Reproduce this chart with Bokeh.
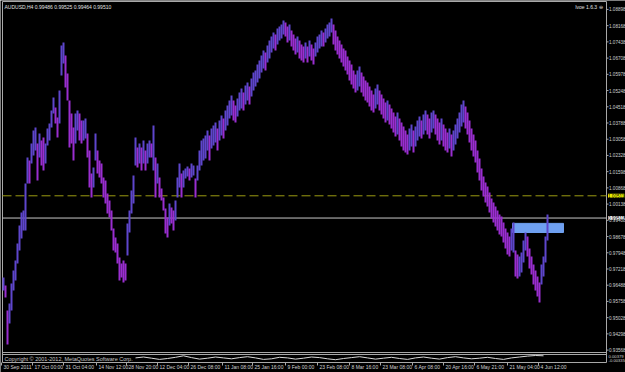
from bokeh.plotting import figure
from bokeh.models import Range1d, Label, LabelSet, ColumnDataSource
from bokeh.embed import file_html
from bokeh.resources import INLINE
from bokeh.core.properties import value

# ---------------- data ----------------
SYMBOL = "AUDUSD,H4"
HEADER_OHLC = ["0.99486", "0.99525", "0.99464", "0.99510"]
INDICATOR_NAME = "Ivoe 1.6.3 \u2296"
COPYRIGHT = "Copyright \u00a9 2001-2012, MetaQuotes Software Corp."

high = [
    0.9684, 0.9648, 0.9535, 0.9567, 0.9657, 0.9715, 0.9760, 0.9837, 0.9918, 0.9976,
    0.9985, 1.0107, 1.0224, 1.0210, 1.0287, 1.0345, 1.0359, 1.0287, 1.0332, 1.0300,
    1.0314, 1.0287, 1.0354, 1.0377, 1.0435, 1.0494, 1.0449, 1.0404, 1.0525, 1.0728,
    1.0741, 1.0683, 1.0602, 1.0480, 1.0422, 1.0359, 1.0422, 1.0435, 1.0422, 1.0390,
    1.0390, 1.0399, 1.0332, 1.0255, 1.0152, 1.0179, 1.0332, 1.0255, 1.0210, 1.0197,
    1.0134, 1.0120, 1.0062, 1.0030, 0.9985, 0.9904, 0.9864, 0.9837, 0.9774, 0.9747,
    0.9760, 0.9747, 0.9927, 0.9985, 1.0075, 1.0143, 1.0314, 1.0269, 1.0287, 1.0269,
    1.0300, 1.0255, 1.0287, 1.0300, 1.0287, 1.0368, 1.0224, 1.0197, 1.0134, 1.0084,
    1.0044, 0.9994, 0.9954, 1.0017, 0.9999, 0.9985, 1.0030, 1.0134, 1.0197, 1.0152,
    1.0165, 1.0174, 1.0183, 1.0174, 1.0197, 1.0188, 1.0129, 1.0188, 1.0255, 1.0300,
    1.0309, 1.0323, 1.0345, 1.0323, 1.0354, 1.0368, 1.0381, 1.0354, 1.0390, 1.0413,
    1.0399, 1.0435, 1.0458, 1.0480, 1.0503, 1.0480, 1.0458, 1.0489, 1.0516, 1.0534,
    1.0516, 1.0548, 1.0561, 1.0543, 1.0579, 1.0606, 1.0615, 1.0642, 1.0660, 1.0683,
    1.0705, 1.0696, 1.0728, 1.0750, 1.0768, 1.0786, 1.0777, 1.0804, 1.0813, 1.0822,
    1.0840, 1.0831, 1.0813, 1.0822, 1.0795, 1.0777, 1.0759, 1.0768, 1.0750, 1.0732,
    1.0723, 1.0741, 1.0723, 1.0750, 1.0732, 1.0714, 1.0741, 1.0768, 1.0777, 1.0795,
    1.0786, 1.0804, 1.0822, 1.0831, 1.0849, 1.0822, 1.0795, 1.0768, 1.0750, 1.0732,
    1.0714, 1.0705, 1.0678, 1.0660, 1.0642, 1.0615, 1.0597, 1.0615, 1.0633, 1.0606,
    1.0588, 1.0570, 1.0561, 1.0543, 1.0525, 1.0507, 1.0534, 1.0552, 1.0525, 1.0507,
    1.0489, 1.0471, 1.0480, 1.0462, 1.0444, 1.0426, 1.0408, 1.0426, 1.0399, 1.0381,
    1.0363, 1.0345, 1.0327, 1.0354, 1.0372, 1.0345, 1.0363, 1.0390, 1.0408, 1.0390,
    1.0417, 1.0435, 1.0417, 1.0399, 1.0426, 1.0435, 1.0417, 1.0399, 1.0381, 1.0399,
    1.0372, 1.0354, 1.0336, 1.0354, 1.0327, 1.0345, 1.0372, 1.0399, 1.0426, 1.0462,
    1.0480, 1.0453, 1.0426, 1.0390, 1.0354, 1.0327, 1.0300, 1.0255, 1.0219, 1.0174,
    1.0138, 1.0111, 1.0093, 1.0066, 1.0039, 1.0021, 1.0003, 0.9985, 0.9967, 0.9958,
    0.9931, 0.9904, 0.9886, 0.9868, 0.9904, 0.9931, 0.9805, 0.9787, 0.9778, 0.9796,
    0.9850, 0.9886, 0.9868, 0.9814, 0.9778, 0.9742, 0.9715, 0.9688, 0.9661, 0.9742,
    0.9778, 0.9868, 0.9967,
]

low = [
    0.9625, 0.9594, 0.9382, 0.9477, 0.9535, 0.9625, 0.9670, 0.9747, 0.9805, 0.9859,
    0.9895, 0.9895, 1.0107, 1.0107, 1.0197, 1.0233, 1.0255, 1.0120, 1.0224, 1.0188,
    1.0165, 1.0197, 1.0278, 1.0300, 1.0359, 1.0422, 1.0377, 1.0314, 1.0377, 1.0593,
    1.0647, 1.0539, 1.0480, 1.0269, 1.0287, 1.0210, 1.0287, 1.0345, 1.0300, 1.0287,
    1.0300, 1.0309, 1.0224, 1.0089, 1.0044, 1.0089, 1.0210, 1.0152, 1.0134, 1.0107,
    1.0044, 1.0017, 0.9972, 0.9954, 0.9895, 0.9805, 0.9796, 0.9747, 0.9670, 0.9684,
    0.9661, 0.9670, 0.9783, 0.9886, 0.9972, 1.0017, 1.0188, 1.0179, 1.0197, 1.0165,
    1.0197, 1.0165, 1.0197, 1.0224, 1.0224, 1.0165, 1.0044, 1.0107, 1.0044, 1.0030,
    0.9985, 0.9882, 0.9864, 0.9918, 0.9927, 0.9895, 0.9940, 1.0044, 1.0089, 1.0044,
    1.0089, 1.0129, 1.0138, 1.0120, 1.0134, 1.0143, 1.0044, 1.0120, 1.0165, 1.0188,
    1.0210, 1.0219, 1.0255, 1.0210, 1.0264, 1.0278, 1.0291, 1.0255, 1.0300, 1.0323,
    1.0309, 1.0345, 1.0368, 1.0399, 1.0413, 1.0390, 1.0381, 1.0408, 1.0435, 1.0444,
    1.0435, 1.0462, 1.0480, 1.0462, 1.0498, 1.0525, 1.0543, 1.0561, 1.0579, 1.0606,
    1.0624, 1.0615, 1.0651, 1.0669, 1.0696, 1.0714, 1.0705, 1.0732, 1.0750, 1.0759,
    1.0777, 1.0768, 1.0741, 1.0750, 1.0723, 1.0705, 1.0687, 1.0696, 1.0669, 1.0660,
    1.0651, 1.0669, 1.0651, 1.0678, 1.0660, 1.0642, 1.0678, 1.0696, 1.0714, 1.0723,
    1.0723, 1.0741, 1.0759, 1.0768, 1.0786, 1.0732, 1.0705, 1.0687, 1.0669, 1.0651,
    1.0633, 1.0615, 1.0597, 1.0570, 1.0552, 1.0534, 1.0516, 1.0525, 1.0543, 1.0516,
    1.0498, 1.0480, 1.0471, 1.0453, 1.0435, 1.0426, 1.0444, 1.0462, 1.0435, 1.0417,
    1.0399, 1.0381, 1.0390, 1.0372, 1.0354, 1.0336, 1.0318, 1.0327, 1.0300, 1.0273,
    1.0255, 1.0246, 1.0237, 1.0255, 1.0273, 1.0246, 1.0273, 1.0300, 1.0318, 1.0309,
    1.0327, 1.0345, 1.0327, 1.0309, 1.0336, 1.0354, 1.0327, 1.0300, 1.0282, 1.0300,
    1.0273, 1.0255, 1.0246, 1.0264, 1.0228, 1.0255, 1.0282, 1.0309, 1.0336, 1.0363,
    1.0381, 1.0354, 1.0327, 1.0291, 1.0255, 1.0228, 1.0201, 1.0156, 1.0120, 1.0075,
    1.0048, 1.0021, 1.0003, 0.9976, 0.9949, 0.9931, 0.9913, 0.9895, 0.9877, 0.9868,
    0.9841, 0.9814, 0.9787, 0.9778, 0.9805, 0.9796, 0.9688, 0.9679, 0.9688, 0.9706,
    0.9751, 0.9805, 0.9778, 0.9724, 0.9697, 0.9652, 0.9625, 0.9598, 0.9571, 0.9652,
    0.9688, 0.9751, 0.9850,
]

price_ticks = [1.08898, 1.08168, 1.07438, 1.06708, 1.05978, 1.05248, 1.04518,
               1.03788, 1.03058, 1.02328, 1.01598, 1.00868, 1.00138, 0.99408,
               0.98678, 0.97948, 0.97218, 0.96488, 0.95758, 0.95028, 0.94298,
               0.93568]
price_tick_labels = ["%.5f" % t for t in price_ticks]

date_labels = ["30 Sep 2011", "17 Oct 00:00", "31 Oct 04:00", "14 Nov 12:00",
               "28 Nov 20:00", "12 Dec 04:00", "26 Dec 08:00", "11 Jan 08:00",
               "25 Jan 16:00", "9 Feb 00:00", "23 Feb 08:00", "8 Mar 16:00",
               "23 Mar 08:00", "6 Apr 08:00", "20 Apr 16:00", "6 May 21:00",
               "21 May 04:00", "4 Jun 12:00"]
date_bars = [-1, 14.5, 30, 46.5, 61.5, 77, 92.5, 109.5, 124.5, 141, 157, 173,
             188.5, 204.5, 220, 235.5, 252, 267.5]

alert_level = 1.00511
bid_level = 0.99511
zone_top = 0.9927
zone_bottom = 0.9886
zone_start_bar = 254.5
zone_end_bar = 280

osc_bars = list(range(66, 273, 4))
osc = [0.2, 0.5, 0.1, -0.3, 0.0, 0.4, 0.9, 0.3, -0.2, 0.1,
       0.5, 0.2, -0.1, 0.3, 0.6, 0.2, -0.3, -0.1, 0.4, 0.2,
       -0.2, 0.1, 0.5, 0.3, -0.1, -0.4, 0.0, 0.3, 0.6, 0.2,
       -0.2, 0.1, 0.4, 0.0, -0.3, 0.2, 0.5, 0.1, -0.2, 0.3,
       0.6, 0.2, -0.1, 0.1, 0.4, 0.0, -0.3, 0.2, 0.5, 0.8,
       1.0, 0.9]
osc_labels = ["0.00379", "-0.00335"]

# ---------------- layout ----------------
W, H = 625, 372
PX_PER_BAR = 2.0
X_START = -1.5
PRICE_PER_PX = 0.00045
Y_TOP = 1.0930
FONT = "Liberation Sans"
GRAY = "#A8A8A8"
BULL = "#5E46CC"
BEAR = "#9A2ED0"


def bx(px):
    return X_START + px / PX_PER_BAR


def py(px):
    return Y_TOP - px * PRICE_PER_PX


AXIS_X = bx(606)
LEFT_X = bx(2)

p = figure(width=W, height=H, output_backend="svg", toolbar_location=None,
           x_range=Range1d(X_START, X_START + W / PX_PER_BAR),
           y_range=Range1d(Y_TOP - H * PRICE_PER_PX, Y_TOP),
           x_axis_location=None, y_axis_location=None,
           min_border=0, background_fill_color="#000000",
           border_fill_color="#000000", outline_line_color=None)
p.xgrid.visible = False
p.ygrid.visible = False
# oscillator sub-window scale: 3 px per unit, zero at 358 px from top
p.extra_y_ranges = {"osc": Range1d(358 / 3 - H / 3, 358 / 3)}

# frame lines
p.segment(x0=[LEFT_X, LEFT_X, LEFT_X, LEFT_X, LEFT_X, AXIS_X],
          x1=[AXIS_X, AXIS_X, AXIS_X, AXIS_X, LEFT_X, AXIS_X],
          y0=[py(1), py(352), py(354), py(362), py(1), py(1)],
          y1=[py(1), py(352), py(354), py(362), py(362), py(362)],
          line_color=GRAY, line_width=1)

# level lines
p.segment(x0=[LEFT_X], x1=[AXIS_X], y0=[alert_level], y1=[alert_level],
          line_color="#9C9C12", line_width=1, line_dash="9 4")
p.segment(x0=[LEFT_X], x1=[AXIS_X], y0=[bid_level], y1=[bid_level],
          line_color="#C8C8C8", line_width=1)

# zone box
p.quad(left=[zone_start_bar], right=[zone_end_bar], top=[zone_top],
       bottom=[zone_bottom], fill_color="#6FA0F0", line_color="#6FA0F0")

# bars
mids = [(h + l) / 2 for h, l in zip(high, low)]
colors = [BULL if i == 0 or mids[i] >= mids[i - 1] else BEAR for i in range(len(mids))]
src = ColumnDataSource(dict(x=list(range(len(high))), high=high, low=low, color=colors))
p.vbar(x="x", width=1.0, top="high", bottom="low", fill_color="color",
       line_color=None, source=src)

# oscillator
p.line(x=osc_bars, y=osc, y_range_name="osc", line_color="#D8D8D8", line_width=1)

# price axis ticks and labels
p.segment(x0=[AXIS_X] * len(price_ticks), x1=[AXIS_X + 1.0] * len(price_ticks),
          y0=price_ticks, y1=price_ticks, line_color=GRAY)
psrc = ColumnDataSource(dict(y=price_ticks, text=price_tick_labels))
p.add_layout(LabelSet(x=608.5, y="y", text="text", x_units="screen", source=psrc,
                      text_font=value(FONT), text_font_size="4.6px",
                      text_color="#D0D0D0", text_baseline="middle"))

p.add_layout(Label(x=607.5, y=alert_level, x_units="screen", text="%.5f" % alert_level,
                   text_font=FONT, text_font_size="4.6px", text_color="#000000",
                   text_baseline="middle", background_fill_color="#F0F000"))
p.add_layout(Label(x=607.5, y=bid_level, x_units="screen", text="%.5f" % bid_level,
                   text_font=FONT, text_font_size="4.6px", text_color="#000000",
                   text_baseline="middle", background_fill_color="#F0F0F0"))

# time axis
p.segment(x0=date_bars, x1=date_bars, y0=[py(362)] * len(date_bars),
          y1=[py(365)] * len(date_bars), line_color=GRAY)
dsrc = ColumnDataSource(dict(x=date_bars, text=date_labels))
p.add_layout(LabelSet(x="x", y=H - 366, y_units="screen", text="text", source=dsrc,
                      x_offset=2, text_font=value(FONT), text_font_size="5px",
                      text_color="#D0D0D0", text_baseline="middle"))

# header texts
p.add_layout(Label(x=4, y=H - 3, x_units="screen", y_units="screen",
                   text=SYMBOL + " " + " ".join(HEADER_OHLC), text_font=FONT,
                   text_font_size="5px", text_color="#E0E0E0", text_baseline="top"))
p.add_layout(Label(x=602, y=H - 3, x_units="screen", y_units="screen",
                   text=INDICATOR_NAME, text_font=FONT, text_align="right",
                   text_font_size="5px", text_color="#E0E0E0", text_baseline="top"))
p.add_layout(Label(x=4, y=H - 358, x_units="screen", y_units="screen",
                   text=COPYRIGHT, text_font=FONT, text_font_size="5.5px",
                   text_color="#C8C8C8", text_baseline="middle"))
p.add_layout(Label(x=608, y=H - 355.5, x_units="screen", y_units="screen",
                   text=osc_labels[0], text_font=FONT, text_font_size="4.2px",
                   text_color="#D0D0D0", text_baseline="middle"))
p.add_layout(Label(x=608, y=H - 359.5, x_units="screen", y_units="screen",
                   text=osc_labels[1], text_font=FONT, text_font_size="4.2px",
                   text_color="#D0D0D0", text_baseline="middle"))

open("out.html", "w").write(file_html(p, INLINE))
